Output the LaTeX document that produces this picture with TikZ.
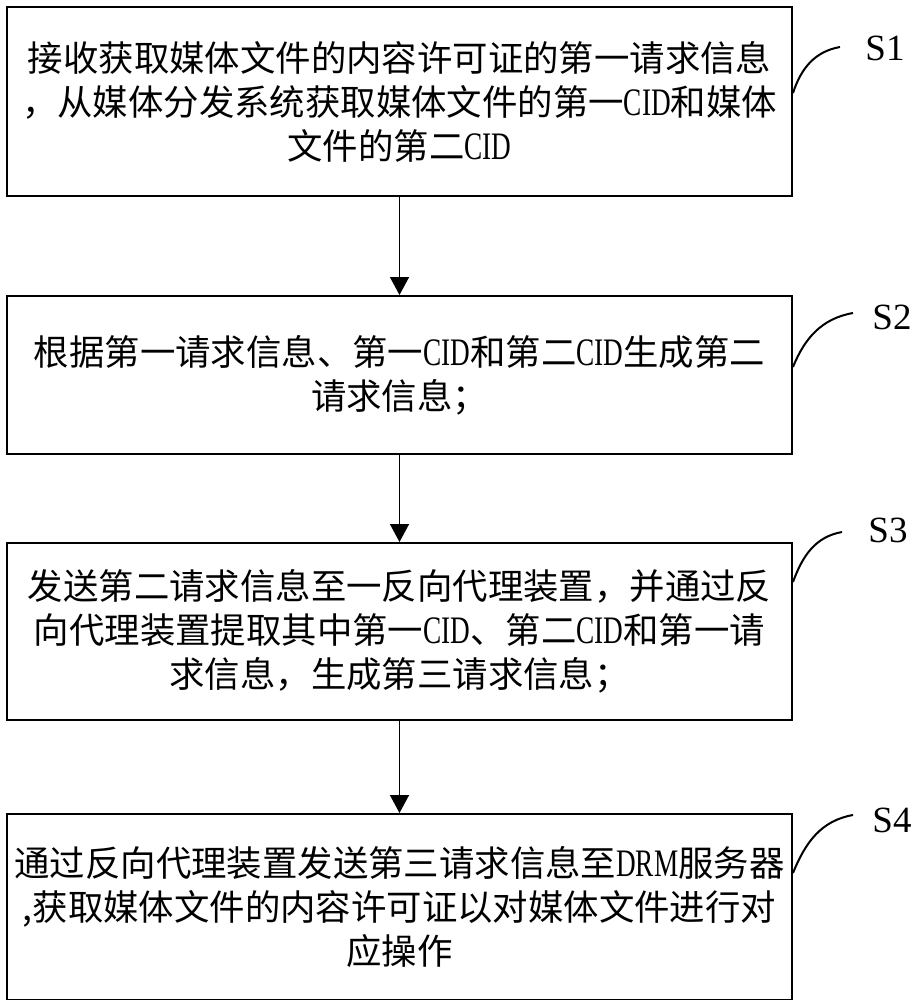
\documentclass[tikz,border=0pt]{standalone}
\usepackage{fontspec}
\setmainfont{Noto Sans CJK SC}
\newfontfamily\enfont[Scale=1.1,FakeStretch=0.7]{Liberation Serif}
\newfontfamily\tagfont{Liberation Serif}
\newcommand{\en}[1]{{\enfont #1}}
\usepackage{tikz}
\usetikzlibrary{arrows.meta,positioning}
\tikzset{
  every picture/.append style={line width=1pt},
  every node/.append style={font=\fontsize{17.7}{22}\selectfont},
}

\begin{document}
\begin{tikzpicture}[
    x=1pt, y=1pt,
    block/.style={rectangle, draw, fill=white, minimum width=392.5pt, align=center, inner sep=2pt},
    arrow/.style={-{Triangle[width=9.5pt,length=9pt]}, line width=0.75pt},
    lead/.style={line width=1pt},
    tag/.style={font=\tagfont\fontsize{18.5}{22}\selectfont, inner sep=0pt}
]
\useasboundingbox (0,0) rectangle (456.5,-500);

\node[block, minimum height=94.5pt] (s1) at (199.75,-50.75) {接收获取媒体文件的内容许可证的第一请求信息\\，从媒体分发系统获取媒体文件的第一\en{CID}和媒体\\文件的第二\en{CID}};
\node[block, minimum height=79pt, below=49pt of s1] (s2) {根据第一请求信息、第一\en{CID}和第二\en{CID}生成第二\\请求信息；};
\node[block, minimum height=88.5pt, below=43.5pt of s2] (s3) {发送第二请求信息至一反向代理装置，并通过反\\向代理装置提取其中第一\en{CID}、第二\en{CID}和第一请\\求信息，生成第三请求信息；};
\node[block, minimum height=93pt, below=46pt of s3] (s4) {通过反向代理装置发送第三请求信息至\en{DRM}服务器\\,获取媒体文件的内容许可证以对媒体文件进行对\\应操作};

\draw[arrow] (s1) -- (s2);
\draw[arrow] (s2) -- (s3);
\draw[arrow] (s3) -- (s4);

% step labels
\node[tag] (l1) at (442.5,-24) {S1};
\node[tag] (l2) at (446,-158.5) {S2};
\node[tag] (l3) at (444,-265) {S3};
\node[tag] (l4) at (446,-410) {S4};

\coordinate (tip1) at (420,-23.5);
\coordinate (tip2) at (426.5,-156.5);
\coordinate (tip3) at (421,-266);
\coordinate (tip4) at (426.5,-407.5);

\draw[lead] ([yshift=4.25pt]s1.east) to[out=72,in=190] (tip1);
\draw[lead] ([yshift=4pt]s2.east) to[out=68,in=190] (tip2);
\draw[lead] ([yshift=24.75pt]s3.east) to[out=70,in=190] (tip3);
\draw[lead] ([yshift=17pt]s4.east) to[out=68,in=190] (tip4);
\end{tikzpicture}
\end{document}
